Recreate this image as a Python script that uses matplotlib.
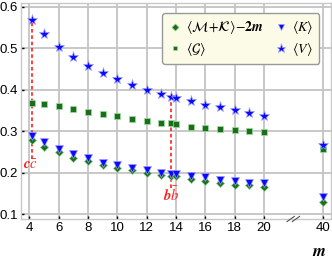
import matplotlib
matplotlib.use("Agg")
import matplotlib.pyplot as plt
import matplotlib.transforms as mtransforms

# ---- data ----
m_vals = [4.15, 5, 6, 7, 8, 9, 10, 11, 12, 13, 13.65, 14, 15, 16, 17, 18, 19, 20, 40]
V_vals = [0.568, 0.535, 0.504, 0.478, 0.458, 0.441, 0.425, 0.411, 0.400, 0.390,
          0.383, 0.381, 0.372, 0.363, 0.357, 0.351, 0.343, 0.337, 0.267]
G_vals = [0.369, 0.365, 0.360, 0.353, 0.347, 0.341, 0.336, 0.330, 0.325, 0.320,
          0.319, 0.317, 0.311, 0.308, 0.306, 0.303, 0.300, 0.299, 0.258]
K_vals = [0.288, 0.273, 0.258, 0.244, 0.234, 0.224, 0.218, 0.212, 0.207, 0.200,
          0.197, 0.197, 0.191, 0.189, 0.181, 0.179, 0.175, 0.174, 0.141]
MK_vals = [0.278, 0.262, 0.249, 0.236, 0.227, 0.218, 0.211, 0.205, 0.199, 0.193,
           0.191, 0.191, 0.185, 0.180, 0.175, 0.171, 0.169, 0.166, 0.129]
xtick_vals = [4, 6, 8, 10, 12, 14, 16, 18, 20, 40]
ytick_vals = [0.1, 0.2, 0.3, 0.4, 0.5, 0.6]

# broken axis: values beyond 20 are drawn at a compressed position
BREAK_FROM = 20.0
FAR_POS = 24.04
def xmap(m):
    return m if m <= BREAK_FROM else FAR_POS

plt.rcParams['mathtext.fontset'] = 'stix'
plt.rcParams['font.family'] = ['Liberation Sans', 'DejaVu Sans']
fig = plt.figure(figsize=(3.32, 2.66), dpi=100)
ax = fig.add_axes([20.5/332, (266-219)/266, (331-20.5)/332, (219-3)/266])

xs = [xmap(m) for m in m_vals]
green = '#1b6e1b'
blue = '#0a0aff'

ax.plot(xs, MK_vals, ls='none', marker='D', ms=4.2, color=green, mec='#8fcf8f', mew=0.5,
        label=r'$\langle\mathcal{M}\!+\!\mathcal{K}\rangle\!-\!\mathbf{2}\boldsymbol{m}$', zorder=4)
ax.plot(xs, G_vals, ls='none', marker='s', ms=4.0, color=green, mec='#9fdf9f', mew=0.5,
        label=r'$\langle\mathcal{G}\rangle$', zorder=4)
ax.plot(xs, K_vals, ls='none', marker='v', ms=5.5, color=blue, mec='#9f9fff', mew=0.5,
        label=r'$\langle K\rangle$', zorder=5)
ax.plot(xs, V_vals, ls='none', marker='*', ms=8, color=blue, mec='#a0a0ff', mew=0.5,
        label=r'$\langle V\rangle$', zorder=5)

# quarkonium markers (red dashed lines + labels)
ax.vlines(4.15, 0.232, 0.566, colors='#ff3030', linestyles=(0, (2, 1.5)), lw=1.3, zorder=3)
ax.vlines(13.65, 0.163, 0.381, colors='#ff3030', linestyles=(0, (2, 1.5)), lw=1.3, zorder=3)
ax.text(4.1, 0.218, r'$\boldsymbol{c\bar{c}}$', color='#ff2020', fontsize=10.5,
        ha='center', va='center', zorder=6)
ax.text(13.66, 0.146, r'$\boldsymbol{b\bar{b}}$', color='#ff2020', fontsize=10.5,
        ha='center', va='center', zorder=6)

ax.set_xlim(3.4, 24.57)
ax.set_ylim(0.088, 0.609)
ax.set_xticks([xmap(t) for t in xtick_vals])
ax.set_xticklabels([str(t) for t in xtick_vals])
ax.set_yticks(ytick_vals)
ax.set_yticklabels([f'{t:.1f}' for t in ytick_vals])
ax.tick_params(direction='in', length=2.5, width=1, color='black', labelsize=9.5, pad=2)
ax.grid(True, color='#c4c4c4', lw=1.3)
ax.set_axisbelow(True)
for s in ax.spines.values():
    s.set_color('#c8c8c8')
    s.set_linewidth(1.0)

# break marks on x axis
trans = mtransforms.blended_transform_factory(ax.transData, ax.transAxes)
for dx in (-0.18, 0.18):
    ax.plot([22.0 + dx - 0.25, 22.0 + dx + 0.25], [-0.012, 0.012], color='#555555',
            lw=0.8, transform=trans, clip_on=False, zorder=7)

fig.text(319/332, 1 - 251/266, r'$\boldsymbol{m}$', fontsize=12, ha='center', va='center')

leg = ax.legend(ncol=2, loc='upper right', bbox_to_anchor=(0.985, 0.985), fontsize=10,
                frameon=True, fancybox=True, facecolor='#fbfbe8', edgecolor='#999999',
                handletextpad=0.3, columnspacing=0.7, borderpad=0.45, labelspacing=0.3,
                handlelength=1.0, markerscale=0.85)
leg.get_frame().set_alpha(1)

fig.savefig('out.png', dpi=100)
